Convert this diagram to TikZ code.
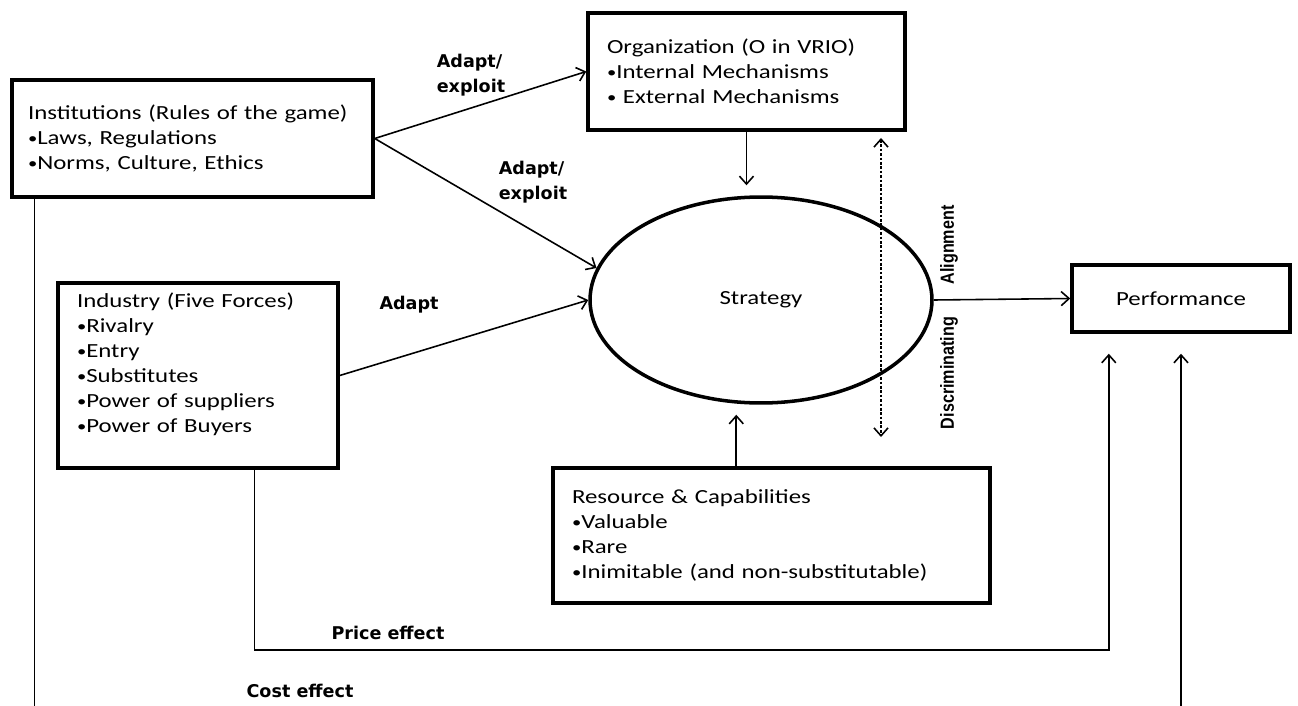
\documentclass[tikz,border=0pt]{standalone}
\usepackage{fontspec}
\setmainfont[FakeStretch=1.24]{Carlito}
\newfontfamily\lblfont{DejaVu Sans}
\newfontfamily\narrowfont[FakeStretch=0.85]{Liberation Sans}
\usetikzlibrary{arrows.meta, calc, shapes.geometric}

\newcommand{\itm}{\raisebox{0.12ex}{\scalebox{0.75}{\textbullet}}}

\tikzset{
  factor/.style = {draw, line width=2pt, align=left, inner ysep=0pt, inner xsep=0.38cm,
    font=\fontsize{11.4}{14.2}\selectfont},
  flow/.style = {-{Straight Barb[length=4.5pt, width=8pt]}, line width=0.9pt},
  effect/.style = {font=\lblfont\bfseries\fontsize{10}{14.2}\selectfont, align=left},
  sidelbl/.style = {rotate=90, font=\narrowfont\bfseries\fontsize{10.8}{12}\selectfont},
}

\begin{document}
\begin{tikzpicture}[x=0.02cm, y=-0.02cm]
    \useasboundingbox (0,0) rectangle (1298,706);

    % boxes
    \node (inst) [factor, inner xsep=0.32cm, text width=6.58cm, minimum height=2.34cm] at (192.5,138.5)
        {Institutions (Rules of the game)\\\itm Laws, Regulations\\\itm Norms, Culture, Ethics};
    \node (org) [factor, text width=5.58cm, minimum height=2.34cm] at (746.5,71.5)
        {Organization (O in VRIO)\\\itm Internal Mechanisms\\\itm{} External Mechanisms};
    \node (ind) [factor, text width=4.84cm, minimum height=3.7cm] at (198,375.5)
        {Industry (Five Forces)\\\itm Rivalry\\\itm Entry\\\itm Substitutes\\\itm Power of suppliers\\\itm Power of Buyers\\\mbox{}};
    \node (res) [factor, text width=7.98cm, minimum height=2.7cm] at (771.5,535.5)
        {Resource \& Capabilities\\\itm Valuable\\\itm Rare\\\itm Inimitable (and non-substitutable)};
    \node (strat) [ellipse, draw, line width=2pt, minimum width=6.84cm, minimum height=4.12cm, inner sep=0pt,
        font=\fontsize{11.4}{14.2}\selectfont] at (761,300) {Strategy};
    \node (perf) [factor, align=center, minimum width=4.36cm, minimum height=1.34cm] at (1181,298.5) {Performance};

    % labels
    \node (adapt1) [effect] at (471,75) {Adapt/\\exploit};
    \node (adapt2) [effect] at (533,182) {Adapt/\\exploit};
    \node (adapt3) [effect] at (409,305) {Adapt};
    \node (price) [effect] at (388,633) {Price effect};
    \node (cost) [effect] at (300,691) {Cost effect};
    \node (alignlbl) [sidelbl] at (949,245) {Alignment};
    \node (discrlbl) [sidelbl] at (949,373) {Discriminating};

    % arrows into strategy
    \draw [flow] (inst.east) -- (org.west);
    \draw [flow] (inst.east) -- (strat.169);
    \draw [flow] (ind.east) -- (strat.west);
    \draw [flow, shorten >=0.2cm] (org.south) -- (org.south |- strat.north);
    \coordinate (resup) at ($(res.north west)!0.42!(res.north east)$);
    \draw [flow, shorten >=0.2cm] (resup) -- (resup |- strat.south);
    \draw [flow] (strat.east) -- (perf.west);

    \coordinate (dtop) at (881,138);
    \coordinate (dbot) at (881,437);
    \draw [{Straight Barb[length=4.5pt, width=8pt]}-{Straight Barb[length=4.5pt, width=8pt]},
        line width=0.9pt, dash pattern=on 1.5pt off 1pt] (dtop) -- (dbot);

    % price effect
    \coordinate (pricedown) at ($(ind.south west)!0.70!(ind.south east)$);
    \coordinate (priceup) at ($(perf.south west)!0.174!(perf.south east)$);
    \coordinate (pricey) at (0,650);
    \draw [flow, shorten >=0.4cm] (pricedown) -- (pricedown |- pricey) -- (priceup |- pricey) -- (priceup);

    % cost effect, runs below the page
    \begin{scope}
        \clip (0,0) rectangle (1298,706);
        \coordinate (costdown) at ($(inst.south west)!0.067!(inst.south east)$);
        \coordinate (costy) at (0,720);
        \draw [flow, shorten >=0.4cm] (costdown) -- (costdown |- costy) -- (perf.south |- costy) -- (perf.south);
    \end{scope}
\end{tikzpicture}
\end{document}
